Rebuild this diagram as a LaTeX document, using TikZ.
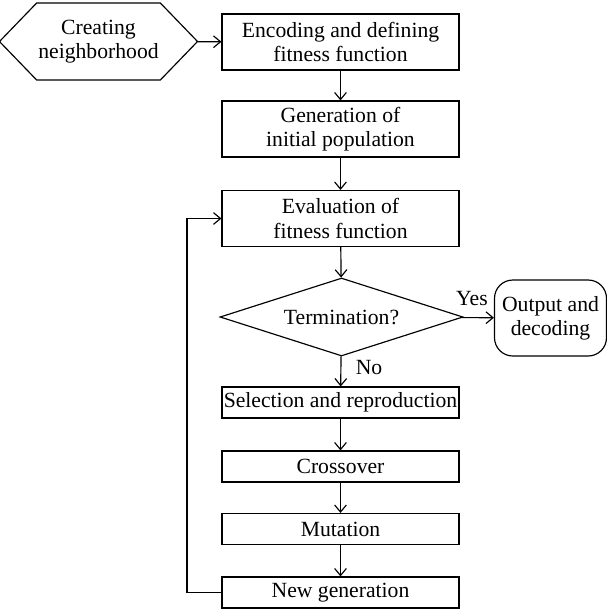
\documentclass[tikz,border=0pt]{standalone}
\usepackage{fontspec}
\setmainfont{Liberation Serif}
\usetikzlibrary{shapes.geometric,shapes.symbols,arrows.meta}

\begin{document}
\begin{tikzpicture}[
    x=0.6pt, y=-0.6pt,
    font=\fontsize{13}{14.6}\selectfont,
    box/.style={draw, line width=0.7pt, minimum width=142.2pt, minimum height=33.6pt, align=center, inner sep=1pt},
    smallbox/.style={box, minimum height=18.6pt},
    hexbox/.style={draw, line width=0.7pt, signal, signal to=west and east, signal pointer angle=92, minimum width=109.8pt, minimum height=46.2pt, align=center, inner sep=1pt},
    decbox/.style={draw, line width=0.7pt, diamond, aspect=3.1, minimum width=145.8pt, minimum height=46.8pt, inner sep=0pt},
    endbox/.style={draw, line width=0.7pt, rounded corners=11pt, minimum width=67.2pt, minimum height=45.6pt, align=center, inner sep=1pt},
    arr/.style={->, line width=0.7pt, >={Straight Barb[length=4.2pt, width=7pt]}},
    lbl/.style={inner sep=0pt},
]
    \useasboundingbox (0,0) rectangle (607,610);

    % Top: input side
    \node[hexbox] (neigh) at (98.5, 41.5) {Creating\\neighborhood};
    \node[box] (enc) at (340.5, 42) {Encoding and defining\\fitness function};
    \node[box] (init) at (340.5, 129) {Generation of\\initial population};
    \node[box] (eval) at (340.5, 218.5) {Evaluation of\\fitness function};

    % Decision
    \node[decbox] (term) at (341.5, 317) {Termination?};
    \node[endbox] (out) at (550.5, 318) {Output and\\decoding};

    % GA operators
    \node[smallbox] (sel) at (340.5, 402.5) {Selection and reproduction};
    \node[smallbox] (cross) at (340.5, 466.5) {Crossover};
    \node[smallbox] (mut) at (340.5, 529) {Mutation};
    \node[smallbox] (newgen) at (340.5, 592.5) {New generation};

    \draw[arr] (neigh) -- (enc);
    \draw[arr] (enc) -- (init);
    \draw[arr] (init) -- (eval);
    \draw[arr] (eval) -- (term);
    \draw[arr] (term) -- (out);
    \draw[arr] (term) -- (sel);
    \draw[arr] (sel) -- (cross);
    \draw[arr] (cross) -- (mut);
    \draw[arr] (mut) -- (newgen);

    % Loop back
    \coordinate (back) at (187, 0);
    \draw[arr] (newgen.west) -- (back |- newgen.west) -- (back |- eval.west) -- (eval.west);

    \node[lbl] (yes) at (472, 299) {Yes};
    \node[lbl] (no) at (369, 368) {No};
\end{tikzpicture}
\end{document}
